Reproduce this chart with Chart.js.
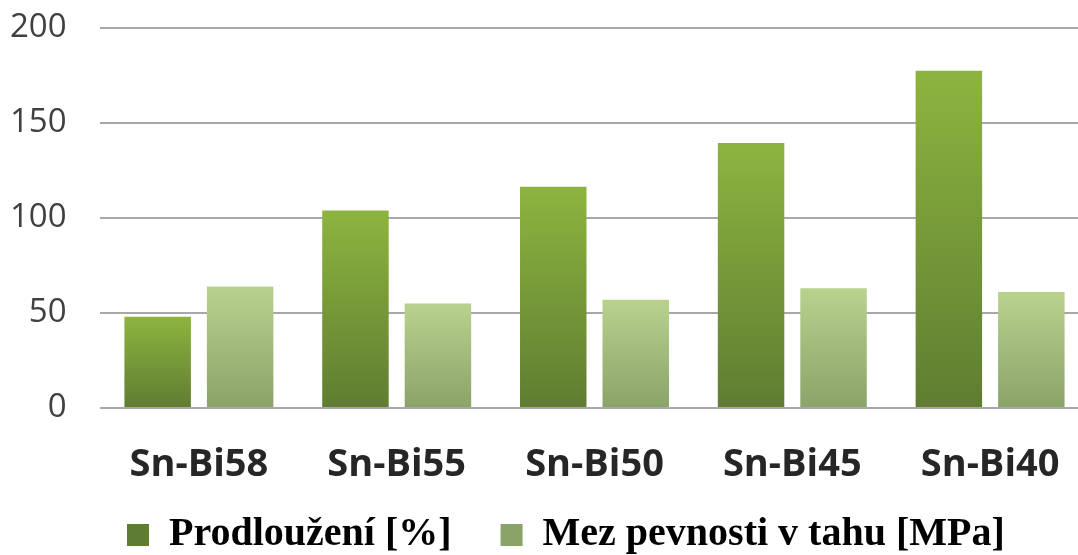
<!DOCTYPE html>
<html>
<head>
<meta charset="utf-8">
<script src="https://cdn.jsdelivr.net/npm/chart.js@4/dist/chart.umd.min.js"></script>
<style>
  html, body { margin: 0; padding: 0; background: #fff; overflow: hidden; }
  #wrap { width: 1089px; height: 565px; }
</style>
</head>
<body>
<div id="wrap"><canvas id="slitinyChart" width="1089" height="565"></canvas></div>
<script>
// data
const slitiny = ["Sn-Bi58", "Sn-Bi55", "Sn-Bi50", "Sn-Bi45", "Sn-Bi40"];
const prodlouzeni = [48, 104, 116.5, 139.5, 177.5];
const mezPevnosti = [64, 55, 57, 63, 61];

// gradient pro sloupce (svisle, od vrcholu k nule)
const barFill = (topColor, bottomColor) => (context) => {
  const chart = context.chart;
  const { ctx, chartArea, scales } = chart;
  if (!chartArea) return bottomColor;
  let g;
  if (context.type !== "data") {
    // ctverecek v legende
    g = ctx.createLinearGradient(0, 524, 0, 546);
  } else {
    const yTop = scales.y.getPixelForValue(context.raw);
    const yBase = scales.y.getPixelForValue(0);
    g = ctx.createLinearGradient(0, yTop, 0, yBase);
  }
  g.addColorStop(0, topColor);
  g.addColorStop(1, bottomColor);
  return g;
};

const ctxSlitiny = document.getElementById("slitinyChart").getContext("2d");
const slitinyChart = new Chart(ctxSlitiny, {
  type: "bar",
  data: {
    labels: slitiny,
    datasets: [{
      label: "Prodloužení [%]",
      data: prodlouzeni,
      backgroundColor: barFill("#8db43f", "#5f7d31"),
      borderWidth: 0
    }, {
      label: "Mez pevnosti v tahu [MPa]",
      data: mezPevnosti,
      backgroundColor: barFill("#b8d28e", "#8aa369"),
      borderWidth: 0
    }]
  },
  options: {
    responsive: false,
    animation: false,
    layout: {
      padding: { left: 78, top: 28, right: 0, bottom: 0 }
    },
    datasets: {
      bar: {
        categoryPercentage: 0.834,
        barPercentage: 0.806
      }
    },
    scales: {
      x: {
        afterFit: (scale) => { scale.height = 58; },
        grid: { display: false, drawTicks: false },
        border: { display: false },
        ticks: {
          mirror: true,   // popisky se neorezavaji na vysku osy
          padding: -80,
          maxRotation: 0,
          color: "#262626",
          font: { family: "'Open Sans', sans-serif", size: 38, weight: "bold" }
        }
      },
      y: {
        min: 0,
        max: 200,
        afterFit: (scale) => { scale.width = 22; },
        grid: {
          color: "#a8a8a8",
          lineWidth: 2,
          drawTicks: false
        },
        border: { display: false },
        ticks: {
          stepSize: 50,
          mirror: true,
          crossAlign: "far",
          padding: -90,
          color: "#404040",
          font: { family: "'Open Sans', sans-serif", size: 33 }
        }
      }
    },
    plugins: {
      tooltip: { enabled: false },
      legend: {
        position: "bottom",
        align: "start",
        labels: {
          boxWidth: 22,
          boxHeight: 22,
          padding: 49,
          color: "#000",
          font: { family: "'Liberation Serif', 'Times New Roman', serif", size: 40, weight: "bold" }
        }
      }
    }
  }
});
</script>
</body>
</html>
